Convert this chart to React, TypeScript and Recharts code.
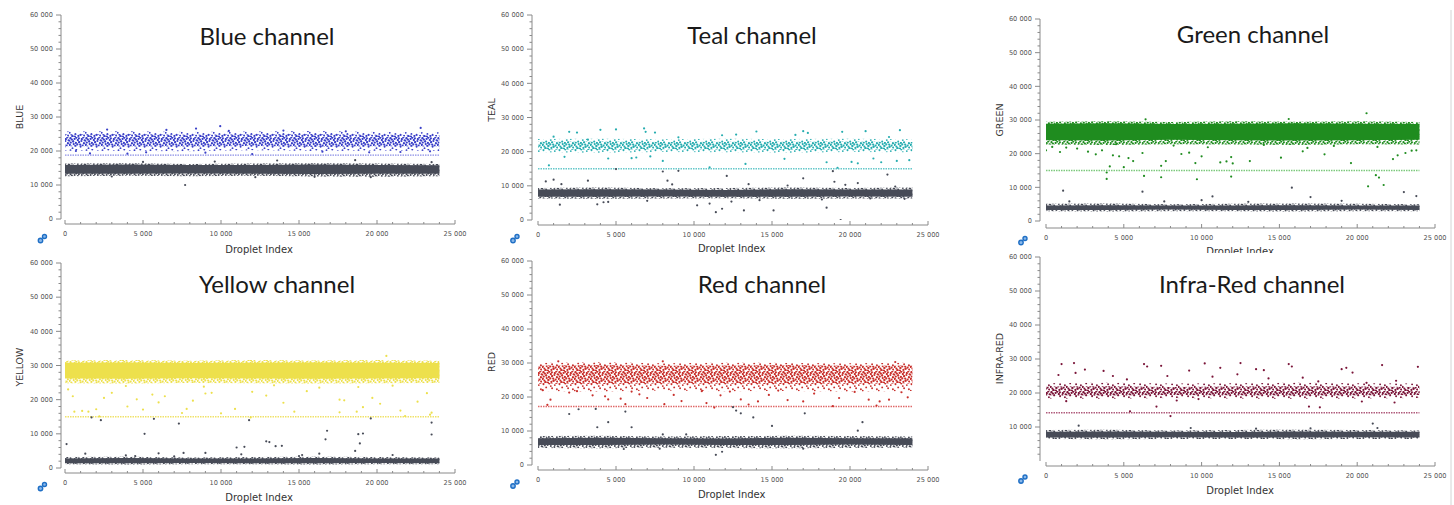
import React from "react";
import { ComposedChart, Area, Scatter, XAxis, YAxis, ReferenceLine } from "recharts";

type Pair = [number, number];

const dropletIndex = [0, 4000, 8000, 12000, 16000, 20000, 24000];

const xTicks = [0, 1000, 2000, 3000, 4000, 5000, 6000, 7000, 8000, 9000, 10000, 11000, 12000, 13000,
  14000, 15000, 16000, 17000, 18000, 19000, 20000, 21000, 22000, 23000, 24000, 25000];
const xTickLabels = [0, 5000, 10000, 15000, 20000, 25000];
const yTicks = [0, 2000, 4000, 6000, 8000, 10000, 12000, 14000, 16000, 18000, 20000, 22000, 24000,
  26000, 28000, 30000, 32000, 34000, 36000, 38000, 40000, 42000, 44000, 46000, 48000, 50000, 52000,
  54000, 56000, 58000, 60000];
const yTicksNoZero = [2000, 4000, 6000, 8000, 10000, 12000, 14000, 16000, 18000, 20000, 22000, 24000,
  26000, 28000, 30000, 32000, 34000, 36000, 38000, 40000, 42000, 44000, 46000, 48000, 50000, 52000,
  54000, 56000, 58000, 60000];
const yTickLabels = [0, 10000, 20000, 30000, 40000, 50000, 60000];

// ---- Blue channel
const blueThreshold = 18800;
const bluePosOuter: Pair[] = [[20100, 25700], [20000, 25800], [19900, 25600], [20200, 25700], [20000, 25900], [20100, 25600], [20000, 25500]];
const bluePosInner: Pair[] = [[21400, 24900], [21300, 25000], [21300, 24800], [21500, 24900], [21200, 25000], [21400, 24800], [21300, 24700]];
const blueNegOuter: Pair[] = [[12600, 16300], [12700, 16400], [12600, 16200], [12700, 16300], [12500, 16400], [12400, 16300], [12600, 16200]];
const blueNegInner: Pair[] = [[13300, 15900], [13300, 16000], [13400, 15900], [13300, 15900], [13200, 16000], [13300, 15900], [13300, 15800]];
const bluePosDots: Pair[] = [[2700, 26300], [6500, 26200], [8400, 26600], [9950, 27300], [22800, 26800], [1600, 19300],
  [4000, 19200], [12000, 19100], [16500, 19800], [19500, 19600], [10500, 25900], [14000, 26000], [18000, 25800],
  [700, 20000], [21500, 19700], [5200, 19600], [9000, 19500], [23400, 19900]];
const blueNegDots: Pair[] = [[7700, 10000], [13600, 17200], [18600, 17300], [5000, 16800], [12200, 12300],
  [19600, 12300], [3000, 12500], [23500, 16700], [9600, 16900], [16000, 12400]];

// ---- Teal channel
const tealThreshold = 15000;
const tealPosOuter: Pair[] = [[19800, 23700], [19700, 23800], [19900, 23600], [19800, 23800], [19700, 23700], [19900, 23800], [19800, 23600]];
const tealPosInner: Pair[] = [[20600, 22900], [20500, 23000], [20700, 22800], [20600, 22900], [20500, 22900], [20600, 23000], [20600, 22800]];
const tealNegOuter: Pair[] = [[6300, 9400], [6200, 9500], [6300, 9300], [6400, 9400], [6200, 9500], [6300, 9400], [6300, 9500]];
const tealNegInner: Pair[] = [[6800, 8900], [6800, 9000], [6900, 8900], [6800, 8800], [6800, 9000], [6900, 8900], [6800, 8900]];
const tealPosDots: Pair[] = [[2000, 25800], [2500, 25600], [4000, 26400], [5000, 26500], [6800, 26800], [6900, 25800],
  [7500, 25600], [11800, 24800], [14000, 25900], [17000, 26000], [17300, 25500], [19500, 25800], [21000, 26000],
  [23200, 26300], [3200, 23500], [9000, 24200], [12700, 25000], [16500, 24900], [22500, 24300], [1000, 24400],
  [700, 16000], [1700, 18500], [4500, 18000], [6000, 18100], [6300, 18300], [7200, 18600], [8000, 17300],
  [11000, 15400], [13300, 16400], [15800, 17900], [18500, 16900], [19200, 15300], [20100, 17000], [20500, 16600],
  [21500, 18000], [22000, 16900], [23000, 17300], [23800, 17500]];
const tealNegDots: Pair[] = [[1000, 11800], [1500, 10500], [3200, 11500], [5000, 14900], [1400, 4500], [3800, 4600],
  [4200, 5200], [4500, 5300], [7000, 5600], [8000, 14200], [8300, 11500], [8600, 10400], [9000, 14400], [10200, 4300],
  [11000, 4800], [11400, 2300], [11800, 3300], [12100, 12900], [12400, 5400], [13200, 2800], [13500, 10500],
  [14200, 5800], [15100, 2800], [16000, 10100], [17000, 12200], [18200, 6000], [18500, 3600], [18900, 14300],
  [19000, 11200], [19400, 0], [19700, 10300], [20500, 10800], [21300, 6300], [22400, 13300], [22900, 9800],
  [23500, 6200], [500, 11300]];

// ---- Green channel
const greenThreshold = 15000;
const greenPosOuter: Pair[] = [[22700, 29500], [22600, 29600], [22800, 29400], [22700, 29600], [22600, 29500], [22800, 29600], [22700, 29400]];
const greenPosInner: Pair[] = [[24000, 28900], [23900, 29000], [24100, 28800], [24000, 28900], [23900, 29000], [24000, 28900], [24100, 28800]];
const greenNegOuter: Pair[] = [[2900, 5100], [2800, 5200], [2900, 5000], [2900, 5100], [2800, 5200], [2900, 5100], [2900, 5000]];
const greenNegInner: Pair[] = [[3300, 4600], [3300, 4700], [3400, 4600], [3300, 4600], [3300, 4700], [3400, 4600], [3300, 4600]];
const greenPosDots: Pair[] = [[0, 21000], [400, 22000], [900, 20500], [1300, 21800], [2000, 21500], [2700, 20600],
  [3200, 19800], [3600, 21000], [3900, 14400], [4100, 16200], [4300, 19500], [4700, 19200], [5000, 16000],
  [5300, 18700], [5600, 17800], [6200, 20200], [6400, 30200], [7400, 16400], [7700, 17800], [8700, 19900],
  [9200, 20300], [9600, 17200], [10000, 19200], [11200, 17400], [11600, 17700], [11900, 19000], [12000, 17100],
  [13100, 17800], [15100, 18800], [15600, 30300], [16500, 20700], [17900, 19800], [19600, 17200], [20600, 32000],
  [21300, 22000], [22300, 18400], [22600, 19500], [23100, 20200], [23500, 20900], [23800, 21000], [3900, 12500],
  [6300, 13400], [7400, 13000], [9700, 12400], [11900, 13200], [21200, 13600], [21400, 12900], [20700, 10300],
  [21700, 10700], [4500, 22800], [8200, 22400], [14000, 22600], [18500, 22300], [10400, 21900], [16800, 21700]];
const greenNegDots: Pair[] = [[1100, 9000], [6200, 8700], [10000, 6200], [10700, 7300], [15800, 9900], [17000, 7100],
  [23000, 8600], [23800, 7400], [1500, 5800], [7600, 5800], [13000, 5700], [19000, 6000]];

// ---- Yellow channel
const yellowThreshold = 15000;
const yellowPosOuter: Pair[] = [[24800, 31500], [24700, 31600], [24900, 31400], [24800, 31600], [24700, 31500], [24800, 31600], [24900, 31400]];
const yellowPosInner: Pair[] = [[26200, 30800], [26100, 30900], [26300, 30700], [26200, 30800], [26100, 30900], [26200, 30800], [26300, 30700]];
const yellowNegOuter: Pair[] = [[1100, 3200], [1000, 3300], [1100, 3100], [1100, 3200], [1000, 3300], [1100, 3200], [1100, 3100]];
const yellowNegInner: Pair[] = [[1400, 2800], [1400, 2900], [1500, 2800], [1400, 2800], [1400, 2900], [1500, 2800], [1400, 2800]];
const yellowPosDots: Pair[] = [[200, 23000], [500, 21000], [600, 16500], [1100, 16700], [1500, 16500], [2000, 17200],
  [2500, 20500], [3000, 22000], [4000, 18000], [4600, 20100], [5000, 17100], [5600, 21500], [6000, 19200],
  [6400, 21000], [7500, 16100], [7800, 17300], [8200, 19700], [9000, 21800], [9400, 22000], [10000, 16000],
  [10900, 17300], [12000, 22300], [12900, 21200], [14000, 19100], [14700, 16500], [15500, 22500], [16300, 23500],
  [17600, 20000], [17900, 19800], [18700, 16500], [19100, 17800], [19700, 20500], [20200, 18800], [21500, 16800],
  [21800, 15200], [22600, 19400], [23200, 21900], [23500, 16200], [20600, 32800], [2200, 15100], [11900, 14800],
  [17600, 16300], [23400, 15600], [3900, 24000], [8900, 23800], [13400, 24200], [18800, 23700], [21000, 24100]];
const yellowNegDots: Pair[] = [[100, 7000], [1300, 4200], [1700, 14800], [2300, 14000], [3900, 3700], [5100, 10000],
  [5700, 14400], [6000, 4300], [7300, 13000], [7600, 4400], [7000, 3400], [9000, 4400], [11000, 6000], [11300, 4000],
  [11500, 6200], [11800, 14000], [12900, 7800], [13100, 7600], [13500, 6400], [13900, 6500], [15200, 3800],
  [16300, 4200], [16800, 10900], [16700, 8400], [18600, 5000], [18800, 9900], [18900, 7200], [19100, 10100],
  [19600, 14500], [23500, 13300], [23500, 9800], [21000, 3800], [15000, 3500], [4500, 3500]];

// ---- Red channel
const redThreshold = 17200;
const redPosOuter: Pair[] = [[21800, 30000], [21600, 30200], [21900, 29900], [21700, 30100], [21800, 30000], [21600, 29900], [21800, 30100]];
const redPosInner: Pair[] = [[23900, 29300], [23800, 29400], [24000, 29200], [23900, 29300], [23800, 29400], [23900, 29200], [24000, 29300]];
const redNegOuter: Pair[] = [[5000, 8500], [4900, 8600], [5100, 8400], [5000, 8500], [4900, 8600], [5000, 8500], [5100, 8400]];
const redNegInner: Pair[] = [[5900, 7900], [5900, 8000], [6000, 7900], [5900, 7800], [5900, 8000], [6000, 7900], [5900, 7900]];
const redPosDots: Pair[] = [[300, 22000], [800, 19200], [1300, 30500], [2000, 21300], [2500, 21700], [3500, 20500],
  [4300, 20200], [4500, 19300], [5300, 19500], [6000, 21600], [6500, 20800], [7000, 19700], [8000, 30500],
  [8100, 17900], [8700, 20600], [9200, 18800], [10500, 21700], [10800, 18200], [11700, 20500], [12300, 21600],
  [13000, 19300], [13500, 17800], [14100, 18700], [14800, 20600], [15400, 21900], [16000, 19100], [17000, 18700],
  [17700, 21000], [18900, 17300], [19300, 19700], [20300, 21500], [21200, 19200], [21700, 17500], [21900, 18700],
  [22500, 19200], [22900, 30300], [23300, 21400], [23700, 19900], [600, 17700], [5600, 17900], [11300, 16900]];
const redNegDots: Pair[] = [[2000, 15000], [2600, 16400], [3700, 16500], [3800, 11100], [4500, 12600], [5600, 15700],
  [6000, 11100], [12500, 17000], [12700, 16000], [13000, 15200], [13800, 14000], [15000, 11500], [17100, 15200],
  [20500, 10100], [20800, 12600], [11400, 3000], [11800, 3900], [5500, 4700], [9500, 9000], [8000, 9000],
  [7800, 4800], [17000, 4800]];

// ---- Infra-Red channel
const irThreshold = 14200;
const irPosOuter: Pair[] = [[18400, 22900], [18300, 23000], [18500, 22800], [18400, 22900], [18300, 23000], [18400, 22900], [18500, 22800]];
const irPosInner: Pair[] = [[19300, 21900], [19200, 22000], [19400, 21800], [19300, 21900], [19200, 22000], [19300, 21900], [19400, 21800]];
const irNegOuter: Pair[] = [[6500, 9100], [6400, 9200], [6500, 9000], [6500, 9100], [6400, 9200], [6500, 9100], [6500, 9000]];
const irNegInner: Pair[] = [[6900, 8600], [6900, 8700], [7000, 8600], [6900, 8500], [6900, 8700], [7000, 8600], [6900, 8600]];
const irPosDots: Pair[] = [[1000, 28500], [1800, 28800], [1900, 25900], [2500, 26900], [800, 25300], [3700, 26500],
  [4300, 25000], [5200, 24000], [6300, 28500], [6500, 27800], [7400, 28000], [7800, 25000], [9200, 26600],
  [10200, 28700], [10700, 24800], [11200, 27400], [12300, 25500], [12500, 28800], [13500, 27000], [14000, 26700],
  [15600, 28500], [15800, 27800], [16500, 24500], [17500, 23400], [19000, 27000], [19300, 27400], [19700, 26000],
  [20600, 23000], [21600, 28200], [22500, 23600], [23900, 27700], [7100, 16000], [8000, 13200], [8400, 17800],
  [9800, 18200], [16900, 16000], [17600, 15800], [20300, 17500], [22400, 17200], [5400, 14600], [1300, 17600],
  [14300, 24300]];
const irNegDots: Pair[] = [[2100, 10400], [21000, 11000], [21300, 9700], [9300, 9700], [13500, 9500], [17000, 9600]];

const GREY = "#474b57";
const AXIS = "#8a8a8a";

// texture tiles for the dense droplet clouds (16 x 12 px, irregular placement)
const sparseDots: Pair[] = [[1.5, 1.2], [7.3, 0.6], [12.8, 2.1], [4.2, 4.4], [10.1, 5.2], [14.9, 6.3], [0.7, 7.8],
  [6.4, 8.9], [11.6, 9.7], [3.5, 11.2], [8.8, 3.1]];
const denseDots: Pair[] = [...sparseDots, [2.9, 2.6], [5.6, 1.9], [9.9, 1.3], [14.3, 0.4], [1.8, 5.6], [6.9, 5.9],
  [12.4, 4.0], [8.3, 7.4], [13.6, 8.6], [4.7, 7.1], [2.4, 9.6], [9.4, 10.9], [15.2, 10.5], [5.9, 11.6],
  [11.2, 7.6], [0.3, 3.6], [15.6, 3.3]];

function DotPattern({ id, color, dots, r }: { id: string; color: string; dots: Pair[]; r: number }) {
  return (
    <pattern id={id} width={16} height={12} patternUnits="userSpaceOnUse">
      {dots.map(([x, y], i) => <circle key={i} cx={x} cy={y} r={r} fill={color} />)}
    </pattern>
  );
}

const fmt = (v: number) => String(v).replace(/\B(?=(\d{3})+(?!\d))/g, " ");

const panels = [
  { key: "blue", title: "Blue channel", axisName: "BLUE", color: "#3a40c8", thr: "#8c8fe6",
    threshold: blueThreshold, posOuter: bluePosOuter, posInner: bluePosInner, negOuter: blueNegOuter, negInner: blueNegInner,
    posDots: bluePosDots, negDots: blueNegDots, outerFill: "sparse", innerFill: "dense",
    L: 65, R: 455, T: 15, B: 219, gx: 4, gy: 5, title_: [267, 45], ylab: [19, 117], xlab: [259, 252.5], icon: [42.5, 238.5] },
  { key: "teal", title: "Teal channel", axisName: "TEAL", color: "#27adb0", thr: "#66c8ca",
    threshold: tealThreshold, posOuter: tealPosOuter, posInner: tealPosInner, negOuter: tealNegOuter, negInner: tealNegInner,
    posDots: tealPosDots, negDots: tealNegDots, outerFill: "sparse", innerFill: "dense",
    L: 538, R: 928, T: 15, B: 220, gx: 6, gy: 5, title_: [752, 44], ylab: [491.5, 110], xlab: [731.7, 252.3], icon: [515, 238.5] },
  { key: "green", title: "Green channel", axisName: "GREEN", color: "#1f8c1f", thr: "#7cc97c",
    threshold: greenThreshold, posOuter: greenPosOuter, posInner: greenPosInner, negOuter: greenNegOuter, negInner: greenNegInner,
    posDots: greenPosDots, negDots: greenNegDots, outerFill: "dense", innerFill: "solid",
    L: 1046, R: 1435, T: 19, B: 221, gx: 6, gy: 7, title_: [1253, 43.3], ylab: [999, 120], xlab: [1240, 255], icon: [1023, 240.5] },
  { key: "yellow", title: "Yellow channel", axisName: "YELLOW", color: "#ede04c", thr: "#f0e26a",
    threshold: yellowThreshold, posOuter: yellowPosOuter, posInner: yellowPosInner, negOuter: yellowNegOuter, negInner: yellowNegInner,
    posDots: yellowPosDots, negDots: yellowNegDots, outerFill: "dense", innerFill: "solid",
    L: 65, R: 455, T: 263, B: 468, gx: 4, gy: 5, title_: [277, 292.7], ylab: [19, 367], xlab: [259, 500.7], icon: [42.5, 486.5] },
  { key: "red", title: "Red channel", axisName: "RED", color: "#c8302c", thr: "#e06a6a",
    threshold: redThreshold, posOuter: redPosOuter, posInner: redPosInner, negOuter: redNegOuter, negInner: redNegInner,
    posDots: redPosDots, negDots: redNegDots, outerFill: "sparse", innerFill: "dense",
    L: 538, R: 928, T: 261, B: 465, gx: 6, gy: 5, title_: [762, 293.3], ylab: [491.5, 362], xlab: [731.7, 498.3], icon: [515, 484] },
  { key: "ir", title: "Infra-Red channel", axisName: "INFRA-RED", color: "#7a1438", thr: "#b05c7c",
    threshold: irThreshold, posOuter: irPosOuter, posInner: irPosInner, negOuter: irNegOuter, negInner: irNegInner,
    posDots: irPosDots, negDots: irNegDots, outerFill: "sparse", innerFill: "dense", noZero: true,
    L: 1046, R: 1435, T: 257, B: 461, gx: 6, gy: 5, title_: [1252, 293.3], ylab: [999, 358.5], xlab: [1240, 493.7], icon: [1023, 479] },
];

type PanelCfg = (typeof panels)[number] & { noZero?: boolean };

const XTick = (gy: number) => (props: any) => {
  const { x, y, payload } = props;
  const v = payload.value as number;
  const major = xTickLabels.includes(v);
  const ay = y + gy;
  return (
    <g>
      <line x1={x} x2={x} y1={ay} y2={ay - (major ? 4 : 2)} stroke={AXIS} strokeWidth={1} />
      {major && (
        <text x={x} y={ay + 11.5} textAnchor="middle" fontSize={6.6} fill="#555" fontFamily="DejaVu Sans">
          {fmt(v)}
        </text>
      )}
    </g>
  );
};

const YTick = (gx: number) => (props: any) => {
  const { x, y, payload } = props;
  const v = payload.value as number;
  const major = yTickLabels.includes(v);
  const ax = x - gx;
  return (
    <g>
      <line x1={ax} x2={ax - (major ? 5 : 2.5)} y1={y} y2={y} stroke={AXIS} strokeWidth={1} />
      {major && (
        <text x={ax - 8} y={y} dy="0.35em" textAnchor="end" fontSize={6.6} fill="#555" fontFamily="DejaVu Sans">
          {fmt(v)}
        </text>
      )}
    </g>
  );
};

const fillFor = (key: string, kind: string, color: string) =>
  kind === "solid" ? color : `url(#${key}-${kind})`;

function Panel({ p }: { p: PanelCfg }) {
  const rows = dropletIndex.map((x, i) => ({
    x,
    posOuter: p.posOuter[i],
    posInner: p.posInner[i],
    negOuter: p.negOuter[i],
    negInner: p.negInner[i],
  }));
  const posPts = p.posDots.map(([x, y]) => ({ x, y }));
  const negPts = p.negDots.map(([x, y]) => ({ x, y }));
  const width = 60 + (p.R - p.L) + 20;
  const height = 10 + (p.B - p.T) + 40;
  const dot = (color: string) => (s: any) => <circle cx={s.cx} cy={s.cy} r={1.1} fill={color} />;
  return (
    <div style={{ position: "absolute", left: p.L - 60, top: p.T - 10 }}>
      <ComposedChart width={width} height={height} data={rows} margin={{ top: 10, right: 20, bottom: 0, left: 0 }}>
        <XAxis
          type="number"
          dataKey="x"
          domain={[0, 25000]}
          ticks={xTicks}
          interval={0}
          tickSize={0}
          tickMargin={0}
          tickLine={false}
          axisLine={{ stroke: AXIS, transform: `translate(0 ${p.gy})` }}
          tick={XTick(p.gy)}
          height={40}
          allowDataOverflow
        />
        <YAxis
          type="number"
          domain={[0, 60000]}
          ticks={p.noZero ? yTicksNoZero : yTicks}
          interval={0}
          tickSize={0}
          tickMargin={0}
          tickLine={false}
          axisLine={{ stroke: AXIS, transform: `translate(${-p.gx} 0)` }}
          tick={YTick(p.gx)}
          width={60}
          allowDataOverflow
        />
        <Area type="linear" dataKey="negOuter" stroke="none" fill="url(#grey-dense)" fillOpacity={1}
          isAnimationActive={false} dot={false} activeDot={false} />
        <Area type="linear" dataKey="negInner" stroke="none" fill={GREY} fillOpacity={1}
          isAnimationActive={false} dot={false} activeDot={false} />
        <Area type="linear" dataKey="posOuter" stroke="none" fill={fillFor(p.key, p.outerFill, p.color)} fillOpacity={1}
          isAnimationActive={false} dot={false} activeDot={false} />
        <Area type="linear" dataKey="posInner" stroke="none" fill={fillFor(p.key, p.innerFill, p.color)} fillOpacity={1}
          isAnimationActive={false} dot={false} activeDot={false} />
        <ReferenceLine
          segment={[{ x: 0, y: p.threshold }, { x: 24000, y: p.threshold }]}
          stroke={p.thr}
          strokeWidth={1.4}
          strokeDasharray="1.5 1"
        />
        <Scatter data={negPts} dataKey="y" fill={GREY} shape={dot(GREY)} isAnimationActive={false} />
        <Scatter data={posPts} dataKey="y" fill={p.color} shape={dot(p.color)} isAnimationActive={false} />
      </ComposedChart>
    </div>
  );
}

function Icon({ cx, cy }: { cx: number; cy: number }) {
  return (
    <g>
      <circle cx={cx - 2} cy={cy + 2} r={2.2} fill="#8ab8ea" stroke="#1f6fc5" strokeWidth={1.4} />
      <circle cx={cx + 2} cy={cy - 2} r={2} fill="#8ab8ea" stroke="#1f6fc5" strokeWidth={1.4} />
    </g>
  );
}

export default function App() {
  return (
    <div style={{ position: "absolute", left: 0, top: 0, width: 1454, height: 505, background: "#fff", overflow: "hidden" }}>
      <svg width={0} height={0} style={{ position: "absolute" }}>
        <defs>
          <DotPattern id="grey-dense" color={GREY} dots={denseDots} r={1} />
          {panels.map((p) => (
            <React.Fragment key={p.key}>
              <DotPattern id={`${p.key}-sparse`} color={p.color} dots={sparseDots} r={0.95} />
              <DotPattern id={`${p.key}-dense`} color={p.color} dots={denseDots} r={1.1} />
            </React.Fragment>
          ))}
          <clipPath id="clip-top-right">
            <rect x={960} y={0} width={494} height={253} />
          </clipPath>
        </defs>
      </svg>
      {panels.map((p) => <Panel key={p.key} p={p as PanelCfg} />)}
      <svg width={1454} height={505} style={{ position: "absolute", left: 0, top: 0, pointerEvents: "none" }}>
        {panels.map((p) => (
          <g key={p.key}>
            <text x={p.title_[0]} y={p.title_[1]} textAnchor="middle" fontFamily="Lato" fontWeight={400} fontSize={24} fill="#1a1a1a">
              {p.title}
            </text>
            <text
              x={p.ylab[0] + 3.5}
              y={p.ylab[1]}
              transform={`rotate(-90 ${p.ylab[0] + 3.5} ${p.ylab[1]})`}
              textAnchor="middle"
              fontFamily="DejaVu Sans"
              fontSize={9.5}
              fill="#333"
            >
              {p.axisName}
            </text>
            <text
              x={p.xlab[0]}
              y={p.xlab[1]}
              textAnchor="middle"
              fontFamily="DejaVu Sans"
              fontSize={10}
              fill="#333"
              clipPath={p.key === "green" ? "url(#clip-top-right)" : undefined}
            >
              Droplet Index
            </text>
            <Icon cx={p.icon[0]} cy={p.icon[1]} />
          </g>
        ))}
        <line x1={1451} x2={1451} y1={10} y2={505} stroke="#d4d4d4" strokeWidth={1} />
      </svg>
    </div>
  );
}
